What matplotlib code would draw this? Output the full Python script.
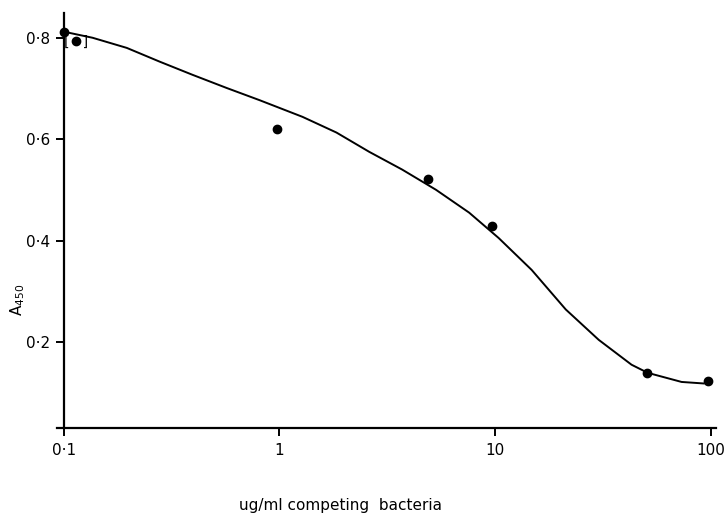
import matplotlib
matplotlib.use("Agg")
import matplotlib.pyplot as plt

# measured points
conc = [0.1, 0.114, 0.97, 4.9, 9.7, 50.5, 97]
a450 = [0.812, 0.794, 0.620, 0.522, 0.428, 0.139, 0.123]
bracketed = [False, True, False, False, False, False, False]

# fitted curve as drawn
curve_x = [0.1, 0.136, 0.196, 0.278, 0.395, 0.569, 0.808, 1.28, 1.84, 2.61,
           3.71, 5.33, 7.59, 10.4, 14.8, 21.3, 30.3, 43.0, 51.1, 73.4, 92.9]
curve_y = [0.812, 0.800, 0.780, 0.753, 0.727, 0.701, 0.677, 0.644, 0.613, 0.575,
           0.540, 0.500, 0.455, 0.405, 0.342, 0.264, 0.204, 0.155, 0.139, 0.121, 0.118]

xticks = [0.1, 1, 10, 100]
xticklabels = ["0·1", "1", "10", "100"]
yticks = [0.2, 0.4, 0.6, 0.8]
yticklabels = ["0·2", "0·4", "0·6", "0·8"]

fig = plt.figure(figsize=(7.25, 5.17), dpi=100)
ax = fig.add_axes([0.0786, 0.172, 0.909, 0.803])
ax.set_xscale("log")
ax.set_xlim(0.093, 106)
ax.set_ylim(0.030, 0.849)

ax.plot(curve_x, curve_y, color="black", lw=1.4, clip_on=False,
        solid_joinstyle="round")
ax.plot(conc, a450, "o", color="black", ms=6, clip_on=False, zorder=5)
for xv, yv, b in zip(conc, a450, bracketed):
    if b:
        ax.text(xv, yv - 0.002, "[   ]", ha="center", va="center", fontsize=10,
                color="black")

for s in ["top", "right"]:
    ax.spines[s].set_visible(False)
ax.spines["left"].set_position(("data", 0.1))
ax.spines["left"].set_linewidth(1.6)
ax.spines["bottom"].set_linewidth(1.6)

ax.set_xticks(xticks)
ax.set_xticklabels(xticklabels)
ax.xaxis.set_minor_locator(matplotlib.ticker.NullLocator())
ax.set_yticks(yticks)
ax.set_yticklabels(yticklabels)
ax.tick_params(axis="both", direction="out", length=6, width=1.4, labelsize=11)
ax.tick_params(axis="x", pad=5)
ax.tick_params(axis="y", pad=4)

ax.set_xlabel("ug/ml competing  bacteria", fontsize=11)
ax.xaxis.set_label_coords(0.43, -0.168)
ax.set_ylabel(r"A$_{450}$", fontsize=11)
ax.yaxis.set_label_coords(-0.045, 0.31)

fig.savefig("out.png", dpi=100, facecolor="white")
